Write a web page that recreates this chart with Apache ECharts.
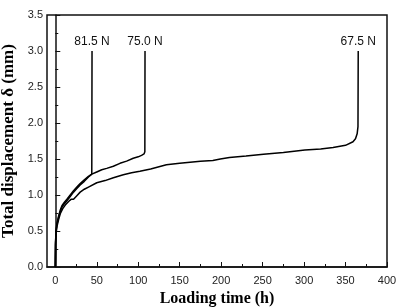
<!DOCTYPE html>
<html><head><meta charset="utf-8">
<script src="https://cdn.jsdelivr.net/npm/echarts@6/dist/echarts.min.js"></script>
<style>html,body{margin:0;padding:0;background:#fff}#c{width:404px;height:307px}</style>
</head><body><div id="c"></div>
<script>
const xTicks = [0, 50, 100, 150, 200, 250, 300, 350, 400];
const xMinorTicks = [25, 75, 125, 175, 225, 275, 325, 375];
const loads = ['81.5 N', '75.0 N', '67.5 N'];

const timeA = [0, 0.3, 1, 2, 4, 6, 8, 11, 14, 18, 22, 26, 30, 35, 40, 44, 44.3];
const dispA = [0, 0.35, 0.52, 0.61, 0.71, 0.79, 0.85, 0.9, 0.94, 1.0, 1.06, 1.11, 1.16, 1.21, 1.26, 1.29, 3.0];

const timeB = [0, 0.3, 1, 2, 4, 6, 8, 11, 14, 18, 22, 26, 30, 35, 40, 44, 50, 56, 62, 70, 78, 86, 94, 100, 104, 107, 108, 108.2];
const dispB = [0, 0.33, 0.5, 0.59, 0.69, 0.77, 0.83, 0.88, 0.92, 0.98, 1.04, 1.09, 1.14, 1.19, 1.25, 1.29, 1.32, 1.35, 1.37, 1.40, 1.44, 1.47, 1.51, 1.53, 1.55, 1.57, 1.60, 3.0];

const timeC = [0, 0.3, 1, 2, 4, 6, 9, 12, 16, 19, 22, 26, 30, 35, 40, 50, 60, 70, 82, 92, 102, 115, 134, 150, 175, 190, 199, 210, 230, 251, 275, 301, 320, 335, 350, 359, 362, 364, 365, 365.3];
const dispC = [0, 0.3, 0.47, 0.56, 0.66, 0.74, 0.81, 0.86, 0.91, 0.94, 0.94, 0.99, 1.04, 1.08, 1.11, 1.17, 1.2, 1.24, 1.28, 1.31, 1.33, 1.36, 1.42, 1.44, 1.47, 1.48, 1.50, 1.52, 1.54, 1.565, 1.59, 1.625, 1.64, 1.66, 1.69, 1.74, 1.78, 1.85, 1.95, 3.0];

function zip(t, d) { return t.map((v, i) => [v, d[i]]); }
function mk(t, d, name) {
  const n = t.length - 1;
  return {
    type: 'line', showSymbol: false, animation: false,
    lineStyle: { color: '#000', width: 1.5 },
    data: zip(t, d),
    markPoint: {
      animation: false,
      data: [{
        coord: [t[n], d[n]], symbol: 'circle', symbolSize: 1,
        itemStyle: { color: 'rgba(0,0,0,0)' },
        label: { show: true, position: 'top', distance: 3, formatter: name,
                 color: '#111', fontSize: 12, fontFamily: 'Liberation Sans' }
      }]
    }
  };
}

const chart = echarts.init(document.getElementById('c'));
chart.setOption({
  animation: false,
  grid: { left: 47, right: 17, top: 15, bottom: 40, containLabel: false, outerBoundsMode: 'none',
          show: true, borderColor: '#111', borderWidth: 1.5 },
  xAxis: [{
    type: 'value', min: -10, max: 400,
    name: 'Loading time (h)', nameLocation: 'middle', nameGap: 18,
    nameTextStyle: { fontFamily: 'Liberation Serif', fontWeight: 'bold', fontSize: 16, color: '#000' },
    axisLine: { show: true, lineStyle: { color: '#111', width: 1.5 } },
    axisTick: { show: true, inside: true, length: 5, customValues: xTicks, lineStyle: { color: '#111' } },
    axisLabel: { customValues: xTicks, color: '#222', fontSize: 11, fontFamily: 'Liberation Sans', margin: 8 },
    splitLine: { show: false }
  }, {
    type: 'value', min: -10, max: 400, position: 'bottom',
    axisLine: { show: false },
    axisTick: { show: true, inside: true, length: 3, customValues: xMinorTicks, lineStyle: { color: '#111' } },
    axisLabel: { show: false }, splitLine: { show: false }
  }],
  yAxis: {
    type: 'value', min: 0, max: 3.5, interval: 0.5,
    name: 'Total displacement δ (mm)', nameLocation: 'middle', nameGap: 21,
    nameTextStyle: { fontFamily: 'Liberation Serif', fontWeight: 'bold', fontSize: 17, color: '#000' },
    axisLine: { show: true, lineStyle: { color: '#111', width: 1.5 } },
    axisTick: { show: true, inside: true, length: 5, lineStyle: { color: '#111' } },
    minorTick: { show: true, splitNumber: 2, length: 3, lineStyle: { color: '#111' } },
    axisLabel: { color: '#222', fontSize: 11, fontFamily: 'Liberation Sans', margin: 4,
                 formatter: v => v.toFixed(1) },
    splitLine: { show: false }
  },
  series: [mk(timeA, dispA, loads[0]), mk(timeB, dispB, loads[1]), mk(timeC, dispC, loads[2])]
});
</script></body></html>
